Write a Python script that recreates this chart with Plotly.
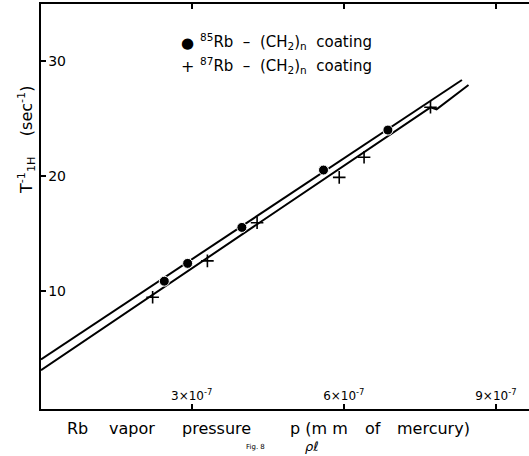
import plotly.graph_objects as go

# Data (x in units of 1e-7 mm Hg, y in sec^-1)
rb85_x = [2.46, 2.92, 3.99, 5.60, 6.87]
rb85_y = [10.84, 12.39, 15.52, 20.51, 23.99]
rb87_x = [2.23, 3.31, 4.29, 5.91, 6.40, 7.71]
rb87_y = [9.45, 12.61, 15.92, 19.87, 21.62, 25.97]
fit85_x = [0.028, 8.33]
fit85_y = [4.03, 28.35]
fit87_x = [0.028, 7.71, 7.83, 8.46]
fit87_y = [3.10, 25.97, 25.79, 27.91]
xtick_vals = [3, 6, 9]
xtick_text = ["3×10<sup>-7</sup>", "6×10<sup>-7</sup>", "9×10<sup>-7</sup>"]
ytick_vals = [10, 20, 30]
ytick_text = ["10", "20", "30"]
xtitle_words = ["Rb", "vapor", "pressure", "p (m m", "of", "mercury)"]
xtitle_left_px = [65, 107, 180, 288, 363, 395]

FONT = "DejaVu Sans"
L, T, W, H = 41, 4, 488, 405


def px2paper(px, py):
    return (px - L) / W, (T + H - py) / H


fig = go.Figure()
fig.add_trace(go.Scatter(x=fit85_x, y=fit85_y, mode="lines",
                         line=dict(color="black", width=2), showlegend=False))
fig.add_trace(go.Scatter(x=fit87_x, y=fit87_y, mode="lines",
                         line=dict(color="black", width=2), showlegend=False))
fig.add_trace(go.Scatter(x=rb85_x, y=rb85_y, mode="markers",
                         marker=dict(symbol="circle", size=10, color="black",
                                     line=dict(color="white", width=1)),
                         showlegend=False))
fig.add_trace(go.Scatter(x=rb87_x, y=rb87_y, mode="markers",
                         marker=dict(symbol="cross-thin", size=9, color="black",
                                     line=dict(color="black", width=1.6)),
                         showlegend=False))

ann = []
# legend
x, y = px2paper(187.7, 42.7)
ann.append(dict(text="●", x=x, y=y, xref="paper", yref="paper",
                showarrow=False, font=dict(size=15, color="black", family=FONT),
                xanchor="center", yanchor="middle"))
x, y = px2paper(187.7, 66)
ann.append(dict(text="+", x=x, y=y, xref="paper", yref="paper",
                showarrow=False, font=dict(size=16, color="black", family=FONT),
                xanchor="center", yanchor="middle"))
for iso, py in (("85", 41.5), ("87", 65.5)):
    x, y = px2paper(198, py)
    ann.append(dict(text=f"<sup>{iso}</sup>Rb{'\u00a0'*2}–{'\u00a0'*2}(CH<sub>2</sub>)<sub>n</sub>{'\u00a0'*2}coating",
                    x=x, y=y, xref="paper", yref="paper", showarrow=False,
                    font=dict(size=15, color="black", family=FONT),
                    xanchor="left", yanchor="middle"))
# x-axis title, word by word
for word, lpx in zip(xtitle_words, xtitle_left_px):
    x, y = px2paper(lpx, 428)
    ann.append(dict(text=word.replace(" ", "\u00a0"), x=x, y=y,
                    xref="paper", yref="paper", showarrow=False,
                    font=dict(size=16, color="black", family=FONT),
                    xanchor="left", yanchor="middle"))
# y-axis title
NB = "\u00a0"
yt = f"T<sup>-1</sup><sub>1H</sub>{NB*4}(sec<sup>-1</sup>)"
x, y = px2paper(26, 140)
ann.append(dict(text=yt, x=x, y=y, xref="paper", yref="paper",
                showarrow=False, textangle=-90,
                font=dict(size=16, color="black", family=FONT),
                xanchor="center", yanchor="middle"))
x, y = px2paper(255, 447)
ann.append(dict(text="Fig. 8", x=x, y=y, xref="paper", yref="paper",
                showarrow=False, font=dict(size=7, color="black", family=FONT),
                xanchor="center", yanchor="middle"))
x, y = px2paper(312, 446)
ann.append(dict(text="<i>ρℓ</i>", x=x, y=y, xref="paper", yref="paper",
                showarrow=False, font=dict(size=13, color="black", family=FONT),
                xanchor="center", yanchor="middle"))

fig.update_layout(
    width=529, height=456,
    margin=dict(l=L, r=0, t=T, b=456 - T - H),
    paper_bgcolor="white", plot_bgcolor="white",
    font=dict(family=FONT, color="black"),
    annotations=ann,
    showlegend=False,
)
fig.update_xaxes(range=[0.028, 9.653], showgrid=False, zeroline=False,
                 showline=True, linecolor="black", linewidth=2, mirror="ticks",
                 ticks="inside", ticklen=5, tickwidth=1.5, tickcolor="black",
                 tickvals=xtick_vals, ticktext=xtick_text,
                 ticklabelposition="inside", ticklabelstandoff=1,
                 tickfont=dict(size=12, color="black", family=FONT))
fig.update_yaxes(range=[-0.28, 34.96], showgrid=False, zeroline=False,
                 showline=True, linecolor="black", linewidth=2, mirror=False,
                 ticks="inside", ticklen=5, tickwidth=1.5, tickcolor="black",
                 tickvals=ytick_vals, ticktext=ytick_text,
                 ticklabelposition="inside", ticklabelstandoff=2,
                 tickfont=dict(size=14, color="black", family=FONT))

fig.write_html("out.html")
